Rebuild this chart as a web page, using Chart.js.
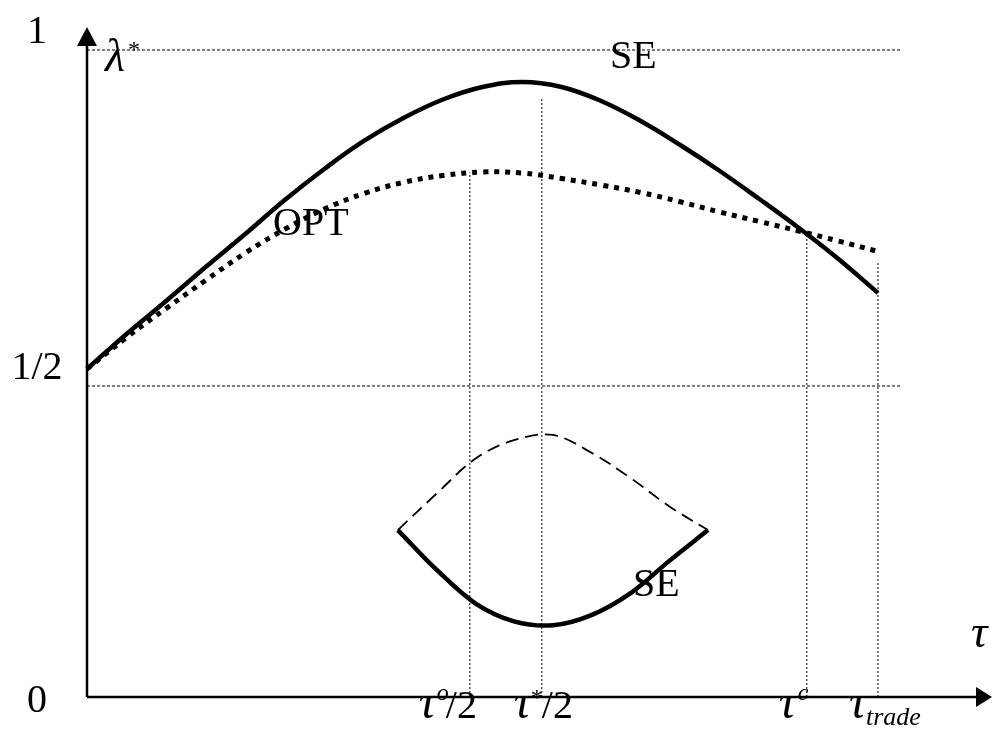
<!DOCTYPE html>
<html><head><meta charset="utf-8">
<script src="https://cdn.jsdelivr.net/npm/chart.js@4/dist/chart.umd.min.js"></script>
<style>html,body{margin:0;padding:0;background:#fff;overflow:hidden}canvas{display:block}</style>
</head><body>
<canvas id="c" width="992" height="729"></canvas>
<script>
// x: tau (tau_trade = 1), y: lambda*
const curveX = [0,0.05,0.1,0.15,0.2,0.25,0.3,0.35,0.4,0.45,0.5,0.55,0.6,0.65,0.7,0.75,0.8,0.85,0.9,0.95,1.0];
const seY  = [0.507,0.5611,0.6121,0.6646,0.7156,0.7682,0.8161,0.8594,0.8949,0.9235,0.9428,0.9505,0.9428,0.9212,0.8903,0.8532,0.8130,0.7697,0.7249,0.6770,0.6244];
const optY = [0.507,0.5558,0.6005,0.6440,0.6862,0.7230,0.7541,0.7782,0.7954,0.8060,0.8114,0.8099,0.8014,0.7913,0.7798,0.7654,0.7496,0.7349,0.7202,0.7048,0.6886];
const lensX = [0.393,0.4425,0.4918,0.5398,0.5891,0.6384,0.6877,0.7358,0.7851];
const lensTopY = [0.258,0.315,0.369,0.397,0.405,0.377,0.338,0.295,0.258];
const lensBotY = [0.258,0.196,0.144,0.117,0.111,0.127,0.161,0.210,0.258];
const refX = [0.484,0.575,0.910,1.0];
const refTop = [0.811,0.927,0.717,0.672];
const hLineY = [1.0,0.4807];
const hLineEnd = 1.030;
const yTickVals = [1,0.5,0];
const yTickLabels = ['1','1/2','0'];

const pts = (xs, ys) => xs.map((x,i)=>({x, y:ys[i]}));
const datasets = [
  {data: pts(curveX, seY), borderColor:'#000', borderWidth:4.5, tension:0.4},
  {data: pts(curveX, optY), borderColor:'#000', borderWidth:5, borderDash:[5,6], tension:0.4},
  {data: pts(lensX, lensTopY), borderColor:'#000', borderWidth:1.8, borderDash:[13,7], tension:0.35},
  {data: pts(lensX, lensBotY), borderColor:'#000', borderWidth:4.5, tension:0.35}
];
refX.forEach((x,i)=>datasets.push({data:[{x, y:0},{x, y:refTop[i]}], borderColor:'#000', borderWidth:1, borderDash:[2,2]}));
hLineY.forEach(y=>datasets.push({data:[{x:0, y},{x:hLineEnd, y}], borderColor:'#000', borderWidth:1, borderDash:[3,2]}));
datasets.forEach(d=>{d.showLine=true; d.pointRadius=0; d.fill=false; d.clip=false; d.borderCapStyle='butt';});

const F = 'Liberation Serif, Times New Roman, serif';
function txt(ctx, s, x, y, size, italic, align){
  ctx.font = (italic?'italic ':'') + size + 'px ' + F;
  ctx.textAlign = align || 'left';
  ctx.textBaseline = 'alphabetic';
  ctx.fillText(s, x, y);
}

const overlay = {
  id:'overlay',
  afterDraw(chart){
    const ctx = chart.ctx, xs = chart.scales.x, ys = chart.scales.y;
    const x0 = xs.getPixelForValue(0), y0 = ys.getPixelForValue(0);
    const xEnd = xs.right, yTop = ys.top;
    ctx.save();
    ctx.fillStyle = '#000'; ctx.strokeStyle = '#000';
    // axes
    ctx.lineWidth = 2.5; ctx.setLineDash([]);
    ctx.beginPath(); ctx.moveTo(x0, y0); ctx.lineTo(x0, yTop + 15); ctx.stroke();
    ctx.beginPath(); ctx.moveTo(x0, y0); ctx.lineTo(xEnd - 12, y0); ctx.stroke();
    ctx.beginPath(); ctx.moveTo(x0, yTop); ctx.lineTo(x0 - 10, yTop + 19); ctx.lineTo(x0 + 10, yTop + 19); ctx.closePath(); ctx.fill();
    ctx.beginPath(); ctx.moveTo(xEnd, y0); ctx.lineTo(xEnd - 16, y0 - 10); ctx.lineTo(xEnd - 16, y0 + 10); ctx.closePath(); ctx.fill();
    // y tick labels
    const off = [-7, 5.5, 15];
    yTickVals.forEach((v,i)=>{
      txt(ctx, yTickLabels[i], x0 - 50, ys.getPixelForValue(v) + off[i], 40, false, 'center');
    });
    // axis titles
    txt(ctx, 'λ', x0 + 18, yTop + 44, 46, true);
    txt(ctx, '*', x0 + 41, yTop + 30, 24, false);
    txt(ctx, 'τ', xEnd - 21, y0 - 50, 46, true);
    // curve labels
    txt(ctx, 'SE', 610, 68, 40, false);
    txt(ctx, 'OPT', 273, 235, 40, false);
    txt(ctx, 'SE', 633, 596, 40, false);
    // reference tick labels
    const lx = refX.map(v=>xs.getPixelForValue(v));
    const b = y0 + 21;
    txt(ctx, 'τ', lx[0] - 51, b, 48, true); txt(ctx, 'o', lx[0] - 33, b - 18, 24, true); txt(ctx, '/2', lx[0] - 24, b, 40, false);
    txt(ctx, 'τ', lx[1] - 28, b, 48, true); txt(ctx, '*', lx[1] - 11, b - 13, 24, false); txt(ctx, '/2', lx[1] + 0, b, 40, false);
    txt(ctx, 'τ', lx[2] - 28, b, 48, true); txt(ctx, 'c', lx[2] - 9, b - 18, 24, true);
    txt(ctx, 'τ', lx[3] - 29, b, 48, true); txt(ctx, 'trade', lx[3] - 12, b + 7, 26, true);
    ctx.restore();
  }
};

new Chart(document.getElementById('c'), {
  type:'scatter',
  data:{datasets},
  options:{
    responsive:false, animation:false, devicePixelRatio:1,
    layout:{padding:{left:87, right:0, top:27, bottom:32}},
    scales:{
      x:{type:'linear', min:0, max:(992-87)/791, display:false},
      y:{type:'linear', min:0, max:(697-27)/647, display:false}
    },
    plugins:{legend:{display:false}, tooltip:{enabled:false}}
  },
  plugins:[overlay]
});
</script>
</body></html>
